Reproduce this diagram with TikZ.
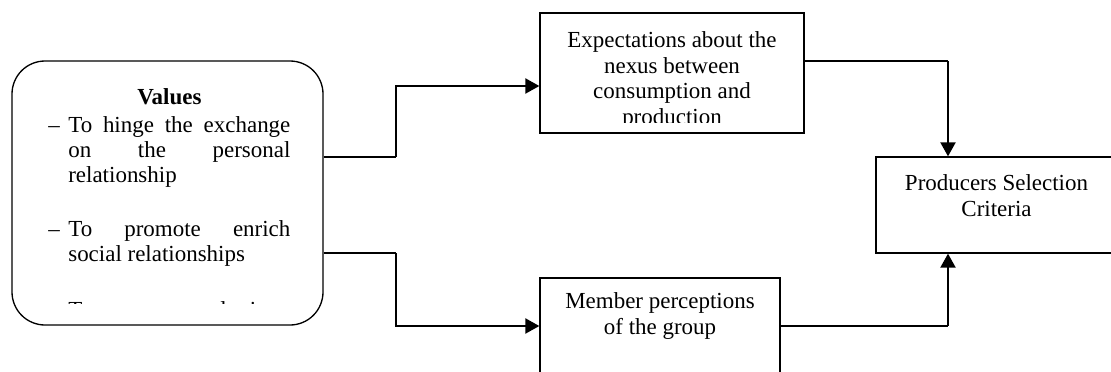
\documentclass[tikz,border=0pt]{standalone}
\usepackage{fontspec}
\setmainfont{Liberation Serif}
\usetikzlibrary{arrows.meta}
\usetikzlibrary{positioning,calc}
\newdimen\unitpx \unitpx=0.566pt
\tikzstyle{box} = [rectangle, draw=black, line width=0.75pt, inner sep=0pt]
\tikzstyle{valbox} = [box, rounded corners=33\unitpx]
\tikzstyle{txt} = [inner sep=0pt, align=center, font=\fontsize{13}{14.6}\selectfont]
\tikzstyle{link} = [draw=black, line width=0.75pt]
\tikzstyle{flow} = [draw=black, line width=1.1pt, -{Triangle[length=7.9pt,width=8.5pt]}]

\begin{document}
\begin{tikzpicture}[x=0.566pt, y=-0.566pt]
\useasboundingbox (0,0) rectangle (1111,371);

% boxes
\node (values) [valbox, minimum width=311\unitpx, minimum height=264\unitpx] at (167.5,193) {};
\node (expect) [box, minimum width=264\unitpx, minimum height=120\unitpx] at (672,73) {};
\node (prod) [box, minimum width=241\unitpx, minimum height=96\unitpx] at (996.5,205) {};
\node (member) [box, minimum width=240\unitpx, minimum height=96\unitpx] at (660,326) {};

% texts, cut off at the box bottom
\begin{scope}
  \clip (values.north west) rectangle (323,303.5);
  \node (valtext) [anchor=north west, inner sep=0pt] at (48,88) {\parbox[t]{137pt}{\fontsize{13}{14.3}\selectfont
    \hyphenpenalty=10000 \exhyphenpenalty=10000 \tolerance=10000
    {\centering\textbf{Values}\par}
    \begin{list}{--}{\setlength{\leftmargin}{11.3pt}\setlength{\labelwidth}{6.5pt}\setlength{\labelsep}{4.8pt}%
      \setlength{\itemsep}{16pt}\setlength{\parsep}{0pt}\setlength{\topsep}{1.5pt}\setlength{\partopsep}{0pt}}
    \item To hinge the exchange on the personal relationship
    \item To promote enrich social relationships
    \vspace{1.3pt}
    \item To oppose mass logic
    \end{list}}};
\end{scope}
\begin{scope}
  \clip (expect.north west) rectangle (804,122.5);
  \node (expecttxt) [txt, anchor=north] at (672,31) {Expectations about the\\nexus between\\consumption and\\production};
\end{scope}
\node (prodtxt) [txt, anchor=north] at (996.5,174) {Producers Selection\\Criteria};
\node (membertxt) [txt, anchor=north] at (660,292) {Member perceptions\\of the group};

% connectors
\coordinate (kneeA) at (396,157);
\coordinate (kneeB) at (396,253);
\coordinate (kneeC) at (948,61);
\coordinate (kneeD) at (948,326);
\draw[link] (values.east |- kneeA) -- (kneeA);
\draw[flow] (kneeA) |- ($(expect.west)+(0,13)$);
\draw[link] (values.east |- kneeB) -- (kneeB);
\draw[flow] (kneeB) |- (member.west);
\draw[link] (expect.east |- kneeC) -- (kneeC);
\draw[flow] (kneeC) -- (kneeC |- prod.north);
\draw[link] (member.east) -- (kneeD);
\draw[flow] (kneeD) -- (kneeD |- prod.south);
\end{tikzpicture}
\end{document}
